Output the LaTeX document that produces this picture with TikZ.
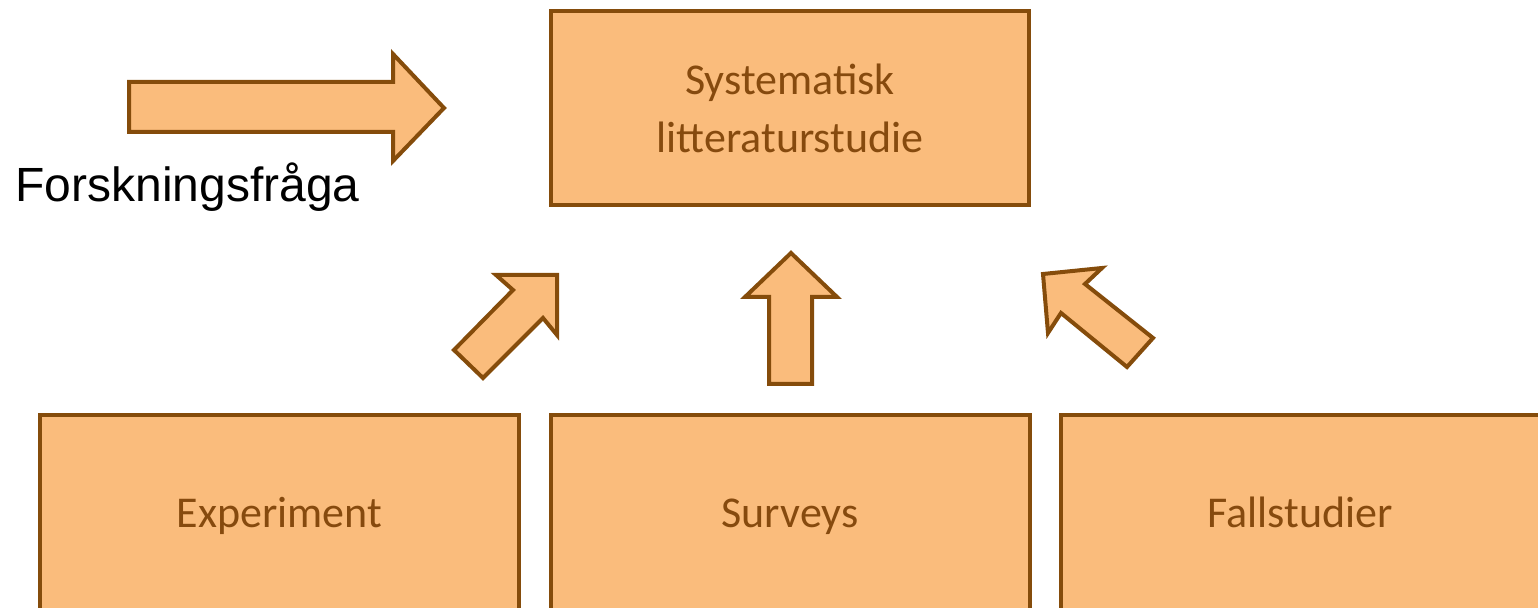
\documentclass[tikz,border=0pt]{standalone}
\usepackage{fontspec}
\setmainfont{Carlito}
\newfontfamily\arialfont{Liberation Sans}
\definecolor{boxfill}{RGB}{250,188,124}
\definecolor{boxline}{RGB}{133,76,11}
\definecolor{boxtext}{RGB}{134,74,14}
\tikzset{
  box/.style={draw=boxline, fill=boxfill, line width=2pt, text=boxtext,
    font=\fontsize{22}{29}\selectfont, align=center, inner sep=0pt},
  onebox/.style={box, minimum width=239.5pt, minimum height=101pt,
    text height=16pt, text depth=4pt},
  blockarrow/.style={draw=boxline, fill=boxfill, line width=2pt, line join=miter}
}
\begin{document}
\begin{tikzpicture}[x=0.5pt,y=-0.5pt]
\useasboundingbox (0,0) rectangle (1538,608);
\clip (0,0) rectangle (1538,608);
% top box
\node[box, minimum width=239pt, minimum height=97pt] (slr) at (790,108)
  {Systematisk\\litteraturstudie};
% bottom boxes
\node[onebox] (exp) at (279.5,516) {Experiment};
\node[onebox] (sur) at (790,516) {Surveys};
\node[onebox] (fall) at (1300,516) {Fallstudier};
% label
\node[anchor=base west, inner sep=0pt, font=\arialfont\fontsize{24}{28}\selectfont] (fq) at (15,202) {Forskningsfråga};
% right block arrow
\draw[blockarrow] (129,82) -- (393,82) -- (393,54) -- (444,108) -- (393,161) -- (393,132) -- (129,132) -- cycle;
% up block arrow
\draw[blockarrow] (791,253) -- (837,297) -- (812,297) -- (812,384) -- (769,384) -- (769,297) -- (745,297) -- cycle;
% left diagonal block arrow
\draw[blockarrow] (496,275) -- (557,275) -- (557,335) -- (543,318) -- (483,378) -- (454,350) -- (513,290) -- cycle;
% right diagonal block arrow
\draw[blockarrow] (1043,274) -- (1102,268) -- (1085,284) -- (1153,338) -- (1127,367) -- (1061,313) -- (1048,333) -- cycle;
\end{tikzpicture}
\end{document}
